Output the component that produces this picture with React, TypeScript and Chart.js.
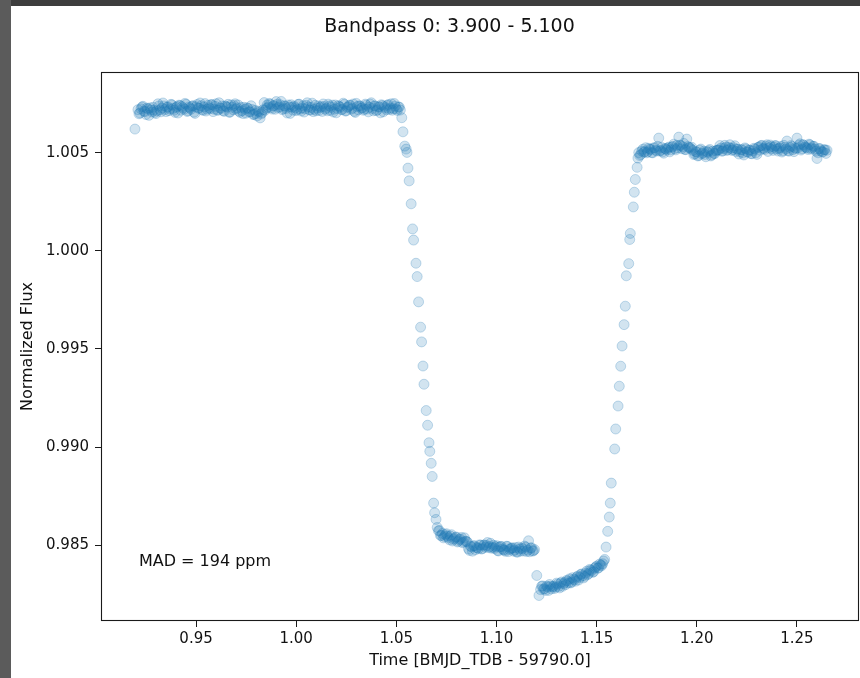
import React, { useEffect, useRef } from "react";
import { Chart, registerables } from "chart.js";

Chart.register(...registerables);

const TITLE = "Bandpass 0: 3.900 - 5.100";
const X_LABEL = "Time [BMJD_TDB - 59790.0]";
const Y_LABEL = "Normalized Flux";
const MAD_TEXT = "MAD = 194 ppm";

const X_TICKS = [0.95, 1.0, 1.05, 1.1, 1.15, 1.2, 1.25];
const Y_TICKS = [0.985, 0.99, 0.995, 1.0, 1.005];
const X_MIN = 0.90255;
const X_MAX = 1.28097;
const Y_MIN = 0.98113;
const Y_MAX = 1.00912;

// Pre-transit baseline (even samples)
const preTime = [
  0.9195,
  0.921, 0.922, 0.923, 0.924, 0.925, 0.926, 0.927, 0.928, 0.929, 0.930,
  0.931, 0.932, 0.933, 0.934, 0.935, 0.936, 0.937, 0.938, 0.939, 0.940,
  0.941, 0.942, 0.943, 0.944, 0.945, 0.946, 0.947, 0.948, 0.949, 0.950,
  0.951, 0.952, 0.953, 0.954, 0.955, 0.956, 0.957, 0.958, 0.959, 0.960,
  0.961, 0.962, 0.963, 0.964, 0.965, 0.966, 0.967, 0.968, 0.969, 0.970,
  0.971, 0.972, 0.973, 0.974, 0.975, 0.976, 0.977, 0.978, 0.979, 0.980,
  0.981, 0.982, 0.983, 0.984, 0.985, 0.986, 0.987, 0.988, 0.989, 0.990,
  0.991, 0.992, 0.993, 0.994, 0.995, 0.996, 0.997, 0.998, 0.999, 1.000,
  1.001, 1.002, 1.003, 1.004, 1.005, 1.006, 1.007, 1.008, 1.009, 1.010,
  1.011, 1.012, 1.013, 1.014, 1.015, 1.016, 1.017, 1.018, 1.019, 1.020,
  1.021, 1.022, 1.023, 1.024, 1.025, 1.026, 1.027, 1.028, 1.029, 1.030,
  1.031, 1.032, 1.033, 1.034, 1.035, 1.036, 1.037, 1.038, 1.039, 1.040,
  1.041, 1.042, 1.043, 1.044, 1.045, 1.046, 1.047, 1.048, 1.049, 1.050,
  1.051, 1.052,
];
const preFlux = [
  1.00621,
  1.0072, 1.00703, 1.00733, 1.00712, 1.00695, 1.00724, 1.00729, 1.00708, 1.00717, 1.007,
  1.0075, 1.00719, 1.00728, 1.00739, 1.0071, 1.00734, 1.00724, 1.00744, 1.00717, 1.00731,
  1.00703, 1.00741, 1.00736, 1.00722, 1.00747, 1.00714, 1.00729, 1.00738, 1.00707, 1.00735,
  1.00728, 1.00754, 1.0072, 1.00734, 1.00713, 1.00742, 1.00725, 1.00745, 1.00722, 1.0075,
  1.00717, 1.00729, 1.00739, 1.00711, 1.00736, 1.00747, 1.00707, 1.00732, 1.00741, 1.00723,
  1.00744, 1.00706, 1.00715, 1.00732, 1.00702, 1.00726, 1.00709, 1.00721, 1.00696, 1.007,
  1.00713, 1.00678, 1.00705, 1.00756, 1.00727, 1.00732, 1.00748, 1.00723, 1.00741, 1.00761,
  1.0073, 1.00745, 1.0072, 1.0074, 1.00726, 1.00744, 1.00701, 1.00732, 1.00737, 1.00715,
  1.00747, 1.00723, 1.00729, 1.00708, 1.00742, 1.00734, 1.00718, 1.00753, 1.00721, 1.00714,
  1.00739, 1.00731, 1.00711, 1.00736, 1.00727, 1.00748, 1.00716, 1.00743, 1.00722, 1.00704,
  1.0074, 1.00732, 1.00721, 1.00747, 1.00714, 1.00735, 1.00742, 1.00727, 1.00711, 1.00752,
  1.00719, 1.00737, 1.0073, 1.00722, 1.00743, 1.00709, 1.00748, 1.00726, 1.00739, 1.00715,
  1.00734, 1.00704, 1.00741, 1.00736, 1.0072, 1.00746, 1.00728, 1.00717, 1.00751, 1.00723,
  1.00733, 1.00718,
];

// Pre-transit baseline (odd samples)
const pre2Time = [
  0.9215, 0.9225, 0.9235, 0.9245, 0.9255, 0.9265, 0.9275, 0.9285, 0.9295, 0.9305,
  0.9315, 0.9325, 0.9335, 0.9345, 0.9355, 0.9365, 0.9375, 0.9385, 0.9395, 0.9405,
  0.9415, 0.9425, 0.9435, 0.9445, 0.9455, 0.9465, 0.9475, 0.9485, 0.9495, 0.9505,
  0.9515, 0.9525, 0.9535, 0.9545, 0.9555, 0.9565, 0.9575, 0.9585, 0.9595, 0.9605,
  0.9615, 0.9625, 0.9635, 0.9645, 0.9655, 0.9665, 0.9675, 0.9685, 0.9695, 0.9705,
  0.9715, 0.9725, 0.9735, 0.9745, 0.9755, 0.9765, 0.9775, 0.9785, 0.9795, 0.9805,
  0.9815, 0.9825, 0.9835, 0.9845, 0.9855, 0.9865, 0.9875, 0.9885, 0.9895, 0.9905,
  0.9915, 0.9925, 0.9935, 0.9945, 0.9955, 0.9965, 0.9975, 0.9985, 0.9995, 1.0005,
  1.0015, 1.0025, 1.0035, 1.0045, 1.0055, 1.0065, 1.0075, 1.0085, 1.0095, 1.0105,
  1.0115, 1.0125, 1.0135, 1.0145, 1.0155, 1.0165, 1.0175, 1.0185, 1.0195, 1.0205,
  1.0215, 1.0225, 1.0235, 1.0245, 1.0255, 1.0265, 1.0275, 1.0285, 1.0295, 1.0305,
  1.0315, 1.0325, 1.0335, 1.0345, 1.0355, 1.0365, 1.0375, 1.0385, 1.0395, 1.0405,
  1.0415, 1.0425, 1.0435, 1.0445, 1.0455, 1.0465, 1.0475, 1.0485, 1.0495, 1.0505,
  1.0515,
];
const pre2Flux = [
  1.00699, 1.00724, 1.00737, 1.0071, 1.00728, 1.00691, 1.00718, 1.00732, 1.00706, 1.00714,
  1.00739, 1.00709, 1.00754, 1.00721, 1.00732, 1.00715, 1.00747, 1.00726, 1.00706, 1.00736,
  1.00743, 1.00717, 1.00729, 1.00752, 1.00711, 1.00734, 1.00722, 1.0074, 1.00701, 1.00746,
  1.00727, 1.0074, 1.00716, 1.00751, 1.00722, 1.0073, 1.00746, 1.0071, 1.00737, 1.00718,
  1.00755, 1.00726, 1.00715, 1.00739, 1.00732, 1.00707, 1.00744, 1.0072, 1.0075, 1.00729,
  1.00712, 1.00731, 1.007, 1.00722, 1.00729, 1.00709, 1.0074, 1.00695, 1.00716, 1.00688,
  1.00708, 1.00698, 1.00719, 1.00717, 1.00744, 1.00752, 1.0073, 1.00739, 1.00722, 1.00748,
  1.00735, 1.00762, 1.00725, 1.00737, 1.00703, 1.00733, 1.00745, 1.00717, 1.0073, 1.00721,
  1.00748, 1.00713, 1.0074, 1.00724, 1.00755, 1.00719, 1.00731, 1.0071, 1.00742, 1.00728,
  1.00716, 1.00736, 1.00749, 1.00722, 1.00714, 1.00739, 1.00732, 1.00708, 1.00744, 1.00726,
  1.00737, 1.0072, 1.00753, 1.00713, 1.00731, 1.00743, 1.00722, 1.00749, 1.00706, 1.00736,
  1.0074, 1.00727, 1.00717, 1.00748, 1.00723, 1.00732, 1.00755, 1.00714, 1.00739, 1.00719,
  1.00734, 1.00745, 1.00709, 1.00729, 1.00742, 1.00721, 1.0075, 1.00725, 1.00738, 1.00716,
  1.00733,
];

// Ingress
const ingressTime = [
  1.0527, 1.0533, 1.0542, 1.0549, 1.0553, 1.0558, 1.0564, 1.0574, 1.0581, 1.0586,
  1.0598, 1.0604, 1.0611, 1.0621, 1.0626, 1.0633, 1.0638, 1.0649, 1.0656, 1.0663,
  1.0667, 1.0674, 1.0679, 1.0686, 1.0691, 1.0698, 1.0704,
];
const ingressFlux = [
  1.00679, 1.00607, 1.00534, 1.00519, 1.00502, 1.00422, 1.00357, 1.0024, 1.00112, 1.00055,
  0.99937, 0.99869, 0.9974, 0.99611, 0.99536, 0.99413, 0.9932, 0.99186, 0.99111, 0.99022,
  0.98978, 0.98917, 0.9885, 0.98714, 0.98665, 0.98631, 0.9859,
];

// In transit, first part
const bottom1Time = [
  1.071, 1.072, 1.073, 1.074, 1.075, 1.076, 1.077, 1.078, 1.079, 1.080,
  1.081, 1.082, 1.083, 1.084, 1.085, 1.086, 1.087, 1.088, 1.089, 1.090,
  1.091, 1.092, 1.093, 1.094, 1.095, 1.096, 1.097, 1.098, 1.099, 1.100,
  1.101, 1.102, 1.103, 1.104, 1.105, 1.106, 1.107, 1.108, 1.109, 1.110,
  1.111, 1.112, 1.113, 1.114, 1.115, 1.116, 1.117, 1.118, 1.119,
];
const bottom1Flux = [
  0.98573, 0.98549, 0.98559, 0.98544, 0.98558, 0.98537, 0.98546, 0.98521, 0.98534, 0.98541,
  0.9852, 0.98531, 0.98512, 0.98537, 0.98519, 0.98481, 0.98495, 0.98469, 0.98497, 0.98488,
  0.98482, 0.985, 0.98482, 0.98501, 0.98498, 0.98487, 0.98509, 0.98489, 0.98483, 0.98497,
  0.9847, 0.98493, 0.9848, 0.98474, 0.98494, 0.98467, 0.98482, 0.98486, 0.98475, 0.98465,
  0.9849, 0.98469, 0.98481, 0.98495, 0.98467, 0.98522, 0.98485, 0.9847, 0.98477,
];
const bottom1bTime = [
  1.0715, 1.0725, 1.0735, 1.0745, 1.0755, 1.0765, 1.0775, 1.0785, 1.0795, 1.0805,
  1.0815, 1.0825, 1.0835, 1.0845, 1.0855, 1.0865, 1.0875, 1.0885, 1.0895, 1.0905,
  1.0915, 1.0925, 1.0935, 1.0945, 1.0955, 1.0965, 1.0975, 1.0985, 1.0995, 1.1005,
  1.1015, 1.1025, 1.1035, 1.1045, 1.1055, 1.1065, 1.1075, 1.1085, 1.1095, 1.1105,
  1.1115, 1.1125, 1.1135, 1.1145, 1.1155, 1.1165, 1.1175, 1.1185,
];
const bottom1bFlux = [
  0.98574, 0.98549, 0.98537, 0.98553, 0.98545, 0.98527, 0.98553, 0.98529, 0.9854, 0.98516,
  0.98528, 0.98539, 0.98516, 0.98519, 0.98515, 0.98473, 0.98491, 0.98496, 0.98476, 0.98486,
  0.98501, 0.9848, 0.98499, 0.9849, 0.98513, 0.98493, 0.98484, 0.98499, 0.98491, 0.98472,
  0.9849, 0.98493, 0.98475, 0.98468, 0.98493, 0.98477, 0.98484, 0.98469, 0.98487, 0.98464,
  0.9848, 0.98485, 0.9847, 0.9849, 0.98474, 0.98466, 0.98486, 0.98471,
];

// In transit, second part
const bottom2Time = [
  1.1201, 1.1212,
  1.122, 1.123, 1.124, 1.125, 1.126, 1.127, 1.128, 1.129, 1.130, 1.131,
  1.132, 1.133, 1.134, 1.135, 1.136, 1.137, 1.138, 1.139, 1.140, 1.141,
  1.142, 1.143, 1.144, 1.145, 1.146, 1.147, 1.148, 1.149, 1.150, 1.151,
  1.152, 1.153, 1.154,
];
const bottom2Flux = [
  0.98345, 0.98243,
  0.98273, 0.98292, 0.98278, 0.98291, 0.98269, 0.9829, 0.98288, 0.98279, 0.98306, 0.98289,
  0.98306, 0.9829, 0.98309, 0.9832, 0.98308, 0.98307, 0.98334, 0.98323, 0.98336, 0.98322,
  0.9835, 0.98344, 0.98341, 0.98367, 0.98355, 0.98373, 0.98361, 0.98382, 0.98393, 0.98384,
  0.98398, 0.98405, 0.98427,
];
const bottom2bTime = [
  1.1225, 1.1235, 1.1245, 1.1255, 1.1265, 1.1275, 1.1285, 1.1295, 1.1305, 1.1315,
  1.1325, 1.1335, 1.1345, 1.1355, 1.1365, 1.1375, 1.1385, 1.1395, 1.1405, 1.1415,
  1.1425, 1.1435, 1.1445, 1.1455, 1.1465, 1.1475, 1.1485, 1.1495, 1.1505, 1.1515,
  1.1525, 1.1535,
];
const bottom2bFlux = [
  0.9829, 0.98275, 0.98269, 0.98287, 0.98299, 0.98277, 0.9829, 0.98286, 0.98301, 0.98282,
  0.98312, 0.98303, 0.98298, 0.98317, 0.98328, 0.98311, 0.98326, 0.98316, 0.98342, 0.98335,
  0.98353, 0.98333, 0.98357, 0.98349, 0.98376, 0.98369, 0.98364, 0.98388, 0.98382, 0.98403,
  0.98395, 0.98419,
];

// Egress
const egressTime = [
  1.1547, 1.1555, 1.1563, 1.1568, 1.1573, 1.159, 1.1595, 1.1607, 1.1613, 1.162, 1.1627,
  1.1637, 1.1643, 1.1648, 1.166, 1.1665, 1.1668, 1.1683, 1.1688, 1.1693, 1.1702, 1.1706,
];
const egressFlux = [
  0.9849, 0.9857, 0.98643, 0.98714, 0.98816, 0.9899, 0.99092, 0.99209, 0.9931, 0.99412, 0.99515,
  0.99624, 0.99718, 0.99873, 0.99935, 1.00058, 1.00089, 1.00224, 1.00299, 1.00364, 1.00426, 1.00473,
];

// Post-transit baseline (even samples)
const postTime = [
  1.171, 1.172, 1.173, 1.174, 1.175, 1.176, 1.177, 1.178, 1.179, 1.180,
  1.181, 1.182, 1.183, 1.184, 1.185, 1.186, 1.187, 1.188, 1.189, 1.190,
  1.191, 1.192, 1.193, 1.194, 1.195, 1.196, 1.197, 1.198, 1.199, 1.200,
  1.201, 1.202, 1.203, 1.204, 1.205, 1.206, 1.207, 1.208, 1.209, 1.210,
  1.211, 1.212, 1.213, 1.214, 1.215, 1.216, 1.217, 1.218, 1.219, 1.220,
  1.221, 1.222, 1.223, 1.224, 1.225, 1.226, 1.227, 1.228, 1.229, 1.230,
  1.231, 1.232, 1.233, 1.234, 1.235, 1.236, 1.237, 1.238, 1.239, 1.240,
  1.241, 1.242, 1.243, 1.244, 1.245, 1.246, 1.247, 1.248, 1.249, 1.250,
  1.251, 1.252, 1.253, 1.254, 1.255, 1.256, 1.257, 1.258, 1.259, 1.260,
  1.261, 1.262, 1.263, 1.264, 1.265,
];
const postFlux = [
  1.00501, 1.00491, 1.00518, 1.00506, 1.005, 1.00523, 1.00517, 1.005, 1.00526, 1.00509,
  1.00575, 1.00512, 1.00505, 1.00522, 1.00515, 1.00529, 1.00515, 1.00533, 1.00521, 1.00538,
  1.0058, 1.00537, 1.00531, 1.00517, 1.0057, 1.00526, 1.0052, 1.00512, 1.00495, 1.00504,
  1.00486, 1.00519, 1.00499, 1.00491, 1.00506, 1.00511, 1.00484, 1.00508, 1.00496, 1.00513,
  1.00515, 1.00524, 1.0051, 1.00538, 1.00512, 1.00527, 1.00523, 1.00516, 1.00536, 1.00519,
  1.00494, 1.00516, 1.00499, 1.00525, 1.00505, 1.00514, 1.00496, 1.0051, 1.00519, 1.00492,
  1.0053, 1.00536, 1.00521, 1.00517, 1.00541, 1.00525, 1.00532, 1.00512, 1.00537, 1.00519,
  1.00522, 1.00533, 1.0051, 1.00528, 1.0056, 1.00508, 1.00537, 1.00516, 1.00525, 1.00575,
  1.00539, 1.00514, 1.00542, 1.0053, 1.00524, 1.00544, 1.00519, 1.00533, 1.00519, 1.00471,
  1.00522, 1.0051, 1.00505, 1.00516, 1.00513,
];

// Post-transit baseline (odd samples)
const post2Time = [
  1.1715, 1.1725, 1.1735, 1.1745, 1.1755, 1.1765, 1.1775, 1.1785, 1.1795, 1.1805,
  1.1815, 1.1825, 1.1835, 1.1845, 1.1855, 1.1865, 1.1875, 1.1885, 1.1895, 1.1905,
  1.1915, 1.1925, 1.1935, 1.1945, 1.1955, 1.1965, 1.1975, 1.1985, 1.1995, 1.2005,
  1.2015, 1.2025, 1.2035, 1.2045, 1.2055, 1.2065, 1.2075, 1.2085, 1.2095, 1.2105,
  1.2115, 1.2125, 1.2135, 1.2145, 1.2155, 1.2165, 1.2175, 1.2185, 1.2195, 1.2205,
  1.2215, 1.2225, 1.2235, 1.2245, 1.2255, 1.2265, 1.2275, 1.2285, 1.2295, 1.2305,
  1.2315, 1.2325, 1.2335, 1.2345, 1.2355, 1.2365, 1.2375, 1.2385, 1.2395, 1.2405,
  1.2415, 1.2425, 1.2435, 1.2445, 1.2455, 1.2465, 1.2475, 1.2485, 1.2495, 1.2505,
  1.2515, 1.2525, 1.2535, 1.2545, 1.2555, 1.2565, 1.2575, 1.2585, 1.2595, 1.2605,
  1.2615, 1.2625, 1.2635, 1.2645,
];
const post2Flux = [
  1.00486, 1.00509, 1.00503, 1.00526, 1.00505, 1.00518, 1.00501, 1.00525, 1.00513, 1.00533,
  1.00509, 1.00527, 1.00498, 1.0052, 1.00524, 1.00505, 1.00529, 1.00544, 1.00515, 1.00525,
  1.00539, 1.00521, 1.00548, 1.00516, 1.00532, 1.00527, 1.00528, 1.00491, 1.00506, 1.00484,
  1.00513, 1.00495, 1.00508, 1.0048, 1.00502, 1.00517, 1.00489, 1.00497, 1.0051, 1.00514,
  1.00537, 1.00508, 1.00522, 1.00529, 1.00516, 1.00541, 1.00512, 1.00526, 1.00507, 1.00518,
  1.00505, 1.00516, 1.00489, 1.0052, 1.00503, 1.00513, 1.00495, 1.00523, 1.005, 1.00527,
  1.00513, 1.00538, 1.00523, 1.00534, 1.00507, 1.0054, 1.0052, 1.00529, 1.00536, 1.00509,
  1.00525, 1.00504, 1.00538, 1.00519, 1.00511, 1.00527, 1.00532, 1.00506, 1.00522, 1.00525,
  1.00546, 1.0052, 1.00538, 1.00527, 1.00517, 1.00541, 1.00524, 1.00533, 1.00508, 1.005,
  1.00521, 1.00504, 1.00515, 1.00497,
];

const SEGMENTS: [number[], number[]][] = [
  [preTime, preFlux],
  [pre2Time, pre2Flux],
  [ingressTime, ingressFlux],
  [bottom1Time, bottom1Flux],
  [bottom1bTime, bottom1bFlux],
  [bottom2Time, bottom2Flux],
  [bottom2bTime, bottom2bFlux],
  [egressTime, egressFlux],
  [postTime, postFlux],
  [post2Time, post2Flux],
];

const FONT = '"DejaVu Sans", "Liberation Sans", sans-serif';
const TEXT_COLOR = "#111";

const decorPlugin = {
  id: "decor",
  afterDatasetsDraw(chart: any) {
    const { ctx, chartArea } = chart;
    const { left, right, top, bottom } = chartArea;
    ctx.save();
    ctx.strokeStyle = "#1a1a1a";
    ctx.lineWidth = 1.1;
    ctx.strokeRect(left + 0.5, top + 0.5, right - left - 1, bottom - top - 1);
    ctx.restore();
  },
  afterDraw(chart: any) {
    const { ctx, chartArea } = chart;
    const { left, right, top, bottom } = chartArea;
    ctx.save();
    ctx.fillStyle = TEXT_COLOR;
    // title
    ctx.font = `19px ${FONT}`;
    ctx.textAlign = "center";
    ctx.textBaseline = "middle";
    ctx.fillText(TITLE, 438.5, 21);
    // x label
    ctx.font = `16px ${FONT}`;
    ctx.fillText(X_LABEL, (left + right) / 2, 655);
    // y label
    ctx.save();
    ctx.translate(17, (top + bottom) / 2);
    ctx.rotate(-Math.PI / 2);
    ctx.fillText(Y_LABEL, 0, 0);
    ctx.restore();
    // MAD annotation at axes fraction (0.05, 0.1)
    ctx.textAlign = "left";
    ctx.textBaseline = "alphabetic";
    ctx.fillText(MAD_TEXT, left + 0.05 * (right - left), bottom - 0.1 * (bottom - top));
    ctx.restore();
  },
};

export default function App() {
  const ref = useRef<HTMLCanvasElement>(null);

  useEffect(() => {
    const canvas = ref.current;
    if (!canvas) return;
    const points: { x: number; y: number }[] = [];
    SEGMENTS.forEach(([t, f]) => {
      for (let i = 0; i < t.length; i++) points.push({ x: t[i], y: f[i] });
    });
    points.sort((a, b) => a.x - b.x);

    const chart = new Chart(canvas, {
      type: "scatter",
      data: {
        datasets: [
          {
            data: points,
            pointRadius: 5,
            pointHoverRadius: 5,
            pointBorderWidth: 1,
            backgroundColor: "rgba(31,119,180,0.2)",
            borderColor: "rgba(31,119,180,0.25)",
          },
        ],
      },
      options: {
        animation: false,
        responsive: false,
        devicePixelRatio: 1,
        events: [],
        layout: { autoPadding: false, padding: { left: 0, right: 1, top: 66, bottom: 0 } },
        plugins: {
          legend: { display: false },
          tooltip: { enabled: false },
          title: { display: false },
        },
        scales: {
          x: {
            type: "linear",
            min: X_MIN,
            max: X_MAX,
            afterBuildTicks: (s: any) => {
              s.ticks = X_TICKS.map((v) => ({ value: v }));
            },
            afterFit: (s: any) => {
              s.height = 57;
              s.paddingLeft = 0;
              s.paddingRight = 0;
            },
            ticks: {
              callback: (v: any) => Number(v).toFixed(2),
              font: { family: FONT, size: 15 },
              color: TEXT_COLOR,
              padding: 3,
              maxRotation: 0,
              autoSkip: false,
            },
            grid: { drawOnChartArea: false, drawTicks: true, tickLength: 6, color: "#1a1a1a" },
            border: { display: false },
          },
          y: {
            type: "linear",
            min: Y_MIN,
            max: Y_MAX,
            afterBuildTicks: (s: any) => {
              s.ticks = Y_TICKS.map((v) => ({ value: v }));
            },
            afterFit: (s: any) => {
              s.width = 90;
              s.paddingTop = 0;
              s.paddingBottom = 0;
            },
            ticks: {
              callback: (v: any) => Number(v).toFixed(3),
              font: { family: FONT, size: 15 },
              color: TEXT_COLOR,
              padding: 6,
              autoSkip: false,
            },
            grid: { drawOnChartArea: false, drawTicks: true, tickLength: 6, color: "#1a1a1a" },
            border: { display: false },
          },
        },
      },
      plugins: [decorPlugin],
    });
    return () => chart.destroy();
  }, []);

  return (
    <div
      style={{
        position: "fixed",
        left: 0,
        top: 0,
        width: 860,
        height: 678,
        background: "#ffffff",
        overflow: "hidden",
      }}
    >
      <div style={{ position: "absolute", left: 0, top: 0, width: 860, height: 6, background: "#3d3d3d" }} />
      <div style={{ position: "absolute", left: 0, top: 0, width: 11, height: 678, background: "#5b5b5b" }} />
      <canvas
        ref={ref}
        width={849}
        height={672}
        style={{ position: "absolute", left: 11, top: 6, width: 849, height: 672 }}
      />
    </div>
  );
}
